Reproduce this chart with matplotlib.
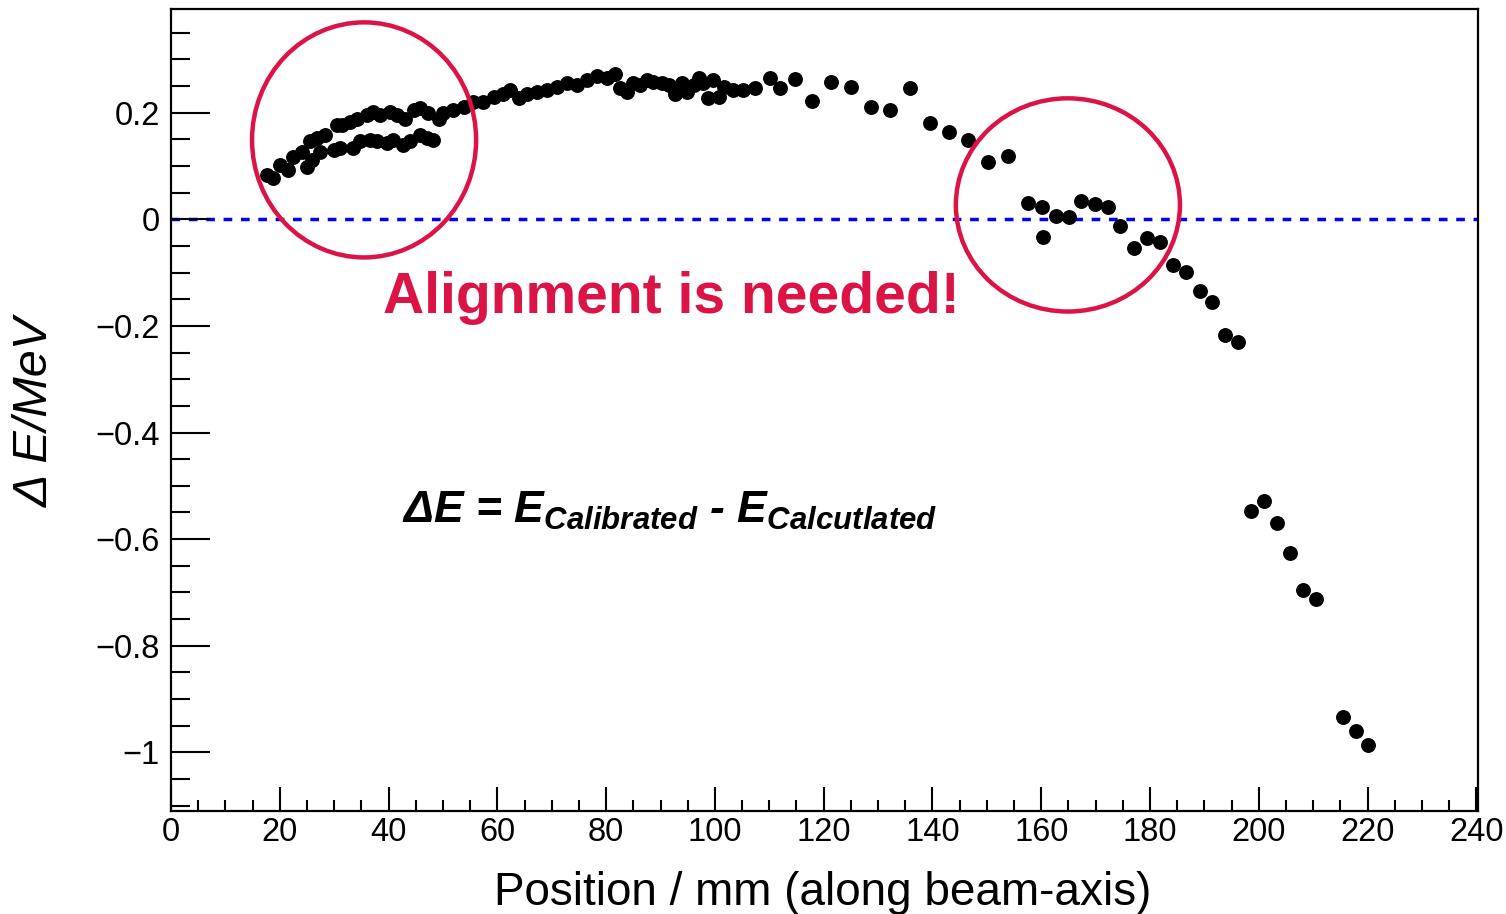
import numpy as np
import matplotlib
matplotlib.use("Agg")
import matplotlib.pyplot as plt
from matplotlib.patches import Ellipse
from matplotlib.ticker import MultipleLocator, FuncFormatter

plt.rcParams['font.family'] = ['Liberation Sans', 'DejaVu Sans']
plt.rcParams['mathtext.fontset'] = 'custom'
plt.rcParams['mathtext.it'] = 'Liberation Sans:italic:bold'
plt.rcParams['mathtext.rm'] = 'Liberation Sans:bold'

# main branch (mm, MeV)
pos_main = [17.6, 18.8, 20.0, 21.6, 22.5, 24.0, 25.6, 26.8, 28.3, 30.5, 31.4, 32.9, 34.2,
            36.0, 37.2, 38.4, 40.3, 41.5, 43.0, 44.6, 45.8, 47.3, 49.2, 50.1, 51.9, 53.8,
            55.6, 57.4, 59.3, 61.1, 62.3, 63.9, 65.4, 67.3, 69.1, 70.9, 72.8, 74.6, 76.5,
            78.3, 80.1, 81.7, 82.6, 83.8, 85.0, 86.3, 87.5, 88.7, 90.2, 91.5, 92.7, 93.9,
            94.8, 96.1, 97.0, 97.9, 98.8, 99.7, 100.7, 101.6, 103.4, 105.2, 107.4, 110.2,
            112.0, 114.8, 117.8, 121.4, 125.0, 128.7, 132.2, 135.9, 139.5, 143.0, 146.6,
            150.2, 153.8, 157.5, 160.2, 160.4, 162.7, 165.1, 167.4, 169.8, 172.2, 174.5,
            177.0, 179.4, 181.9, 184.2, 186.6, 189.1, 191.4, 193.8, 196.2, 198.6, 200.9,
            203.3, 205.8, 208.2, 210.6, 215.4, 217.8, 220.1]
dE_main = [0.083, 0.077, 0.102, 0.092, 0.117, 0.127, 0.146, 0.152, 0.158, 0.177, 0.177, 0.183,
           0.189, 0.196, 0.202, 0.196, 0.202, 0.196, 0.189, 0.205, 0.208, 0.199, 0.189, 0.199,
           0.205, 0.211, 0.221, 0.221, 0.230, 0.236, 0.243, 0.227, 0.236, 0.239, 0.243, 0.249,
           0.255, 0.252, 0.261, 0.268, 0.265, 0.273, 0.246, 0.239, 0.255, 0.252, 0.261, 0.258,
           0.255, 0.252, 0.236, 0.255, 0.239, 0.252, 0.265, 0.255, 0.227, 0.261, 0.230, 0.249,
           0.243, 0.243, 0.246, 0.265, 0.246, 0.263, 0.222, 0.257, 0.248, 0.210, 0.206, 0.246,
           0.180, 0.164, 0.148, 0.108, 0.119, 0.030, 0.024, -0.033, 0.006, 0.005, 0.035, 0.029,
           0.024, -0.012, -0.053, -0.035, -0.042, -0.086, -0.098, -0.135, -0.156, -0.217,
           -0.231, -0.547, -0.529, -0.569, -0.626, -0.695, -0.712, -0.933, -0.960, -0.986]

# lower branch at small positions
pos_low = [25.0, 25.9, 27.4, 29.9, 31.1, 33.5, 34.8, 36.6, 37.8, 39.7, 40.9, 42.7, 44.0,
           45.8, 47.0, 48.2]
dE_low = [0.099, 0.111, 0.127, 0.130, 0.133, 0.133, 0.146, 0.149, 0.146, 0.143, 0.149,
          0.139, 0.146, 0.158, 0.152, 0.149]

red = '#dc1446'

fig = plt.figure(figsize=(15.06, 9.14), dpi=100)
ax = fig.add_axes([171/1506, 1 - 811/914, (1478 - 171)/1506, (811 - 8.5)/914])

ax.axhline(0, color='#0000ff', lw=2.5, ls=(0, (2.5, 2.5)), zorder=1)
ax.scatter(pos_main, dE_main, s=115, color='black', zorder=3, linewidths=0)
ax.scatter(pos_low, dE_low, s=115, color='black', zorder=3, linewidths=0)

ax.add_patch(Ellipse((35.5, 0.149), 41.2, 0.441, fill=False, ec=red, lw=3.2, zorder=4))
ax.add_patch(Ellipse((164.9, 0.027), 41.2, 0.400, fill=False, ec=red, lw=3.2, zorder=4))

ax.text(92.0, -0.176, 'Alignment is needed!', color=red, fontsize=41, fontweight='bold',
        ha='center', va='baseline', zorder=5)
ax.text(42.5, -0.570, 'ΔE = E$_{Calibrated}$ - E$_{Calcutlated}$', fontsize=32,
        fontweight='bold', fontstyle='italic', ha='left', va='baseline', zorder=5)

ax.set_xlim(0, 240.3)
ax.set_ylim(-1.110, 0.3955)

ax.xaxis.set_major_locator(MultipleLocator(20))
ax.xaxis.set_minor_locator(MultipleLocator(5))
ax.yaxis.set_major_locator(MultipleLocator(0.2))
ax.yaxis.set_minor_locator(MultipleLocator(0.05))

def fmt(v, pos):
    s = '%g' % round(v, 6)
    return s.replace('-', '\u2212')

ax.xaxis.set_major_formatter(FuncFormatter(fmt))
ax.yaxis.set_major_formatter(FuncFormatter(fmt))

ax.tick_params(axis='x', which='major', direction='in', length=17, width=1.5, pad=4,
               labelsize=23.5, top=False)
ax.tick_params(axis='x', which='minor', direction='in', length=8, width=1.5, top=False)
ax.tick_params(axis='y', which='major', direction='in', length=28, width=1.5, pad=8,
               labelsize=23.5, right=False)
ax.tick_params(axis='y', which='minor', direction='in', length=14, width=1.5, right=False)
for sp in ax.spines.values():
    sp.set_linewidth(1.6)

fig.text(823/1506, 1 - 905/914, 'Position / mm (along beam-axis)', fontsize=33,
         ha='center', va='baseline')
fig.text(35/1506, 1 - 412/914, 'Δ E/MeV', fontsize=35, fontstyle='italic',
         rotation=90, ha='center', va='center')

fig.savefig('out.png', dpi=100)
